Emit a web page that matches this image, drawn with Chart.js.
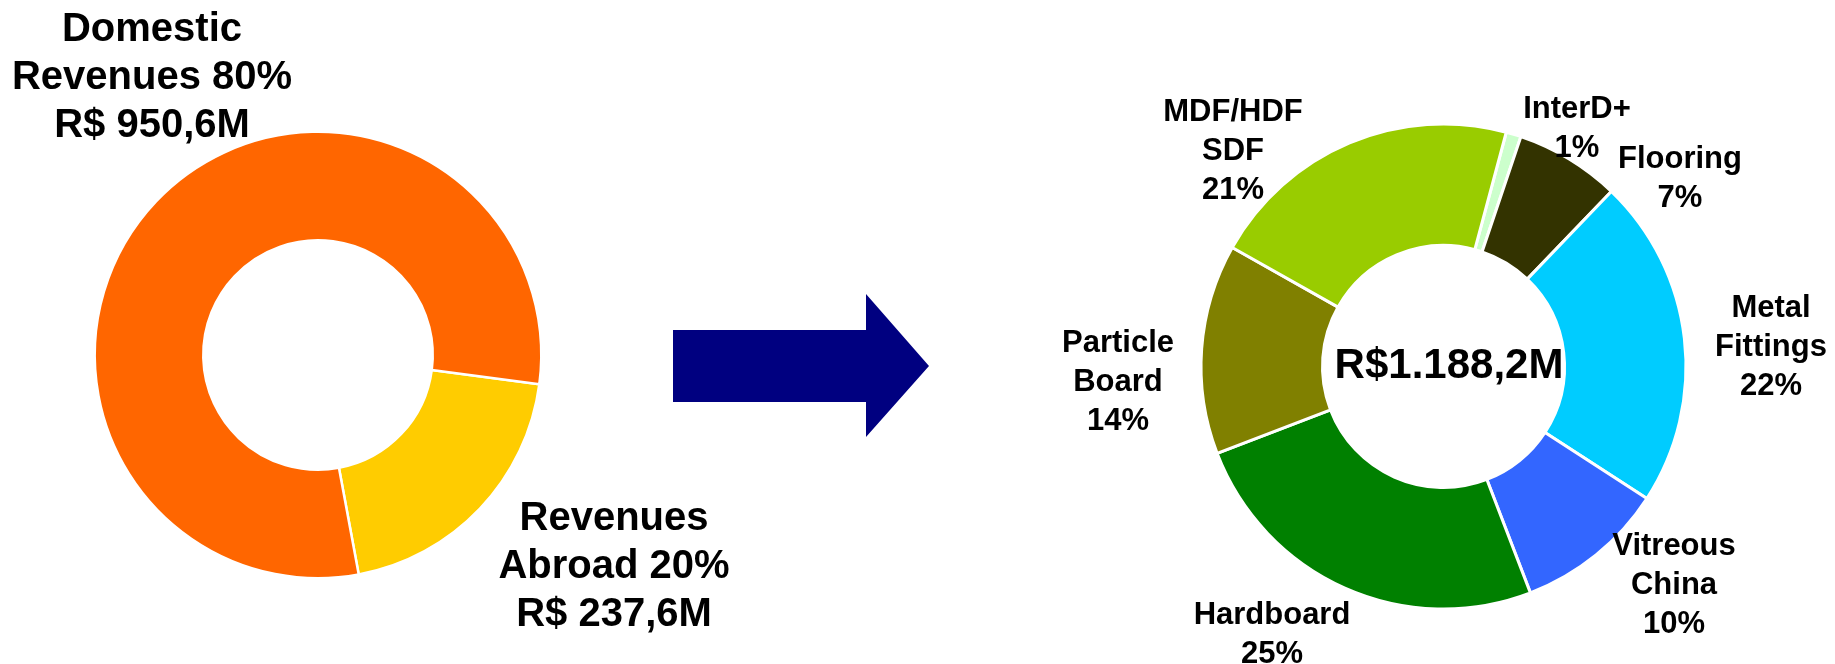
<!DOCTYPE html>
<html>
<head>
<meta charset="utf-8">
<script src="https://cdn.jsdelivr.net/npm/chart.js@4.4.1/dist/chart.umd.min.js"></script>
<style>
html, body { margin: 0; padding: 0; background: #ffffff; width: 1835px; height: 664px; overflow: hidden; }
#wrap { position: relative; width: 1835px; height: 664px; }
canvas { position: absolute; top: 0; left: 0; }
</style>
</head>
<body>
<div id="wrap">
  <canvas id="businessChart" width="1835" height="664"></canvas>
  <canvas id="originChart" width="760" height="664"></canvas>
</div>
<script>
// ---------------- DATA ----------------
const originCategories = ['Revenues Abroad', 'Domestic Revenues'];
const originValues = [237.6, 950.6];                 // R$ millions
const originLabelLines = [['Revenues', 'Abroad'], ['Domestic', 'Revenues']];

const businessCategories = ['InterD+', 'Flooring', 'Metal Fittings', 'Vitreous China', 'Hardboard', 'Particle Board', 'MDF/HDF SDF'];
const businessShares = [1, 7, 22, 10, 25, 14, 21];  // %
const businessLabelLines = [['InterD+'], ['Flooring'], ['Metal', 'Fittings'], ['Vitreous', 'China'], ['Hardboard'], ['Particle', 'Board'], ['MDF/HDF', 'SDF']];

// ---------------- STYLE / LAYOUT ----------------
const originColors = ['#FFCC00', '#FF6600'];
const businessColors = ['#CCFFCC', '#333300', '#00CCFF', '#3366FF', '#008000', '#808000', '#99CC00'];
const originAnchors = [[614, 530], [152, 40.5]];          // label centre x, first baseline y
const businessAnchors = [[1577, 117.5], [1680, 168], [1771, 317], [1674, 554.5], [1272, 624], [1118, 352], [1233, 121]];
const FONT = '"Liberation Sans", Arial, Helvetica, sans-serif';

// ---------------- HELPERS ----------------
const originTotal = originValues.reduce((a, b) => a + b, 0);
function fmtMoney(v, space) {
  const s = v.toFixed(1).split('.');
  const intPart = s[0].replace(/\B(?=(\d{3})+(?!\d))/g, '.');
  return 'R$' + (space ? ' ' : '') + intPart + ',' + s[1] + 'M';
}
const originBlocks = originValues.map((v, i) => {
  const lines = originLabelLines[i].slice();
  lines[lines.length - 1] += ' ' + Math.round(v / originTotal * 100) + '%';
  lines.push(fmtMoney(v, true));
  return lines;
});
const businessBlocks = businessShares.map((v, i) => businessLabelLines[i].concat([v + '%']));

const textPlugin = {
  id: 'sliceText',
  afterDraw(chart, args, opts) {
    const ctx = chart.ctx;
    ctx.save();
    ctx.fillStyle = '#000000';
    ctx.textAlign = 'center';
    ctx.textBaseline = 'alphabetic';
    ctx.font = 'bold ' + opts.size + 'px ' + FONT;
    opts.blocks.forEach((lines, i) => {
      const a = opts.anchors[i];
      lines.forEach((t, j) => ctx.fillText(t, a[0], a[1] + j * opts.lineHeight));
    });
    if (opts.centerText) {
      ctx.font = 'bold ' + opts.centerSize + 'px ' + FONT;
      ctx.fillText(opts.centerText, opts.centerPos[0], opts.centerPos[1]);
    }
    ctx.restore();
  }
};

const arrowPlugin = {
  id: 'arrow',
  beforeDatasetsDraw(chart, args, opts) {
    if (!opts.points) return;
    const ctx = chart.ctx;
    ctx.save();
    ctx.fillStyle = opts.color;
    ctx.beginPath();
    opts.points.forEach((p, i) => i ? ctx.lineTo(p[0], p[1]) : ctx.moveTo(p[0], p[1]));
    ctx.closePath();
    ctx.fill();
    ctx.restore();
  }
};

// ---------------- CHARTS ----------------
new Chart(document.getElementById('businessChart'), {
  type: 'doughnut',
  data: {
    labels: businessCategories,
    datasets: [{
      data: businessShares,
      backgroundColor: businessColors,
      borderColor: '#ffffff',
      borderWidth: 3
    }]
  },
  options: {
    responsive: false,
    animation: false,
    rotation: 15,
    radius: 242.5,
    cutout: '49.9%',
    layout: { padding: { left: 1052, right: 0, top: 69, bottom: 0 } },
    events: [],
    plugins: {
      legend: { display: false },
      tooltip: { enabled: false },
      sliceText: {
        blocks: businessBlocks,
        anchors: businessAnchors,
        size: 31,
        lineHeight: 39,
        centerText: fmtMoney(originTotal, false),
        centerSize: 42,
        centerPos: [1449, 378]
      },
      arrow: {
        color: '#000080',
        points: [[673, 330], [866, 330], [866, 294], [929, 366], [866, 437], [866, 402], [673, 402]]
      }
    }
  },
  plugins: [textPlugin, arrowPlugin]
});

new Chart(document.getElementById('originChart'), {
  type: 'doughnut',
  data: {
    labels: originCategories,
    datasets: [{
      data: originValues,
      backgroundColor: originColors,
      borderColor: '#ffffff',
      borderWidth: 2.5
    }]
  },
  options: {
    responsive: false,
    animation: false,
    rotation: 97.5,
    radius: 223.25,
    cutout: '51.4%',
    layout: { padding: { left: 0, right: 124, top: 46, bottom: 0 } },
    events: [],
    plugins: {
      legend: { display: false },
      tooltip: { enabled: false },
      sliceText: {
        blocks: originBlocks,
        anchors: originAnchors,
        size: 40,
        lineHeight: 48
      },
      arrow: {}
    }
  },
  plugins: [textPlugin, arrowPlugin]
});
</script>
</body>
</html>
